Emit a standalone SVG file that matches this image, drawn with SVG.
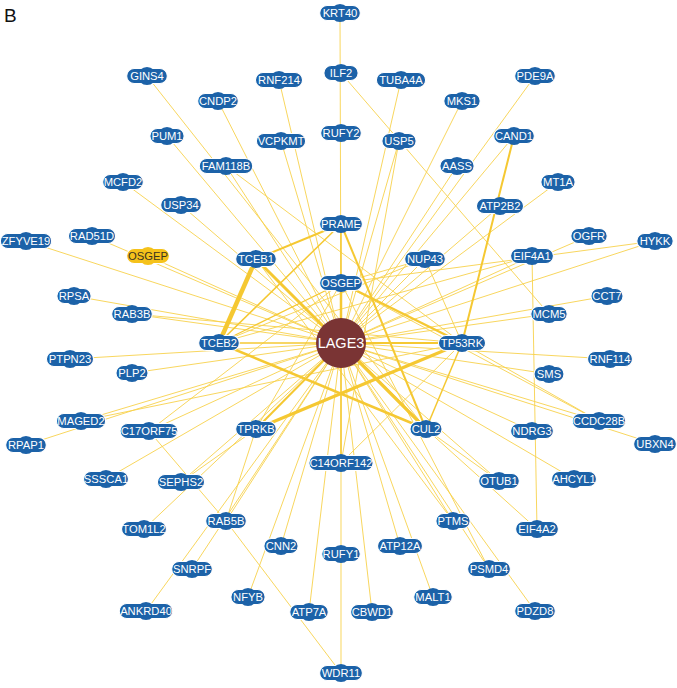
<svg xmlns="http://www.w3.org/2000/svg" width="677" height="688" viewBox="0 0 677 688">
<style>
.e{stroke:#f7d24c;stroke-width:1;fill:none;opacity:.9}
.t{stroke:#f5c832;fill:none}
.node rect,.node circle{fill:#1c62a8;stroke:#ffffff;stroke-width:1}
.node .c{stroke:none}
.node text{fill:#ffffff;font-family:"Liberation Sans",Arial,sans-serif;font-size:10.5px;text-anchor:middle}
.y rect,.y circle{fill:#f5c21b}
.y text{fill:#3a3320}
</style>
<rect width="677" height="688" fill="#ffffff"/>
<text x="4" y="22" font-family="Liberation Sans,Arial,sans-serif" font-size="19" fill="#111">B</text>
<g id="edges">
<line class="e" x1="340" y1="13" x2="341" y2="343"/>
<line class="e" x1="401" y1="80" x2="341" y2="343"/>
<line class="e" x1="279" y1="80" x2="341" y2="343"/>
<line class="e" x1="281" y1="141" x2="341" y2="343"/>
<line class="e" x1="218" y1="101" x2="341" y2="343"/>
<line class="e" x1="226" y1="166" x2="341" y2="343"/>
<line class="e" x1="167" y1="136" x2="341" y2="343"/>
<line class="e" x1="462" y1="101" x2="341" y2="343"/>
<line class="e" x1="535" y1="76" x2="341" y2="343"/>
<line class="e" x1="514" y1="136" x2="341" y2="343"/>
<line class="e" x1="457" y1="166" x2="341" y2="343"/>
<line class="e" x1="500" y1="206" x2="341" y2="343"/>
<line class="e" x1="558" y1="182" x2="341" y2="343"/>
<line class="e" x1="123" y1="182" x2="341" y2="343"/>
<line class="e" x1="181" y1="205" x2="341" y2="343"/>
<line class="e" x1="399" y1="141" x2="341" y2="343"/>
<line class="e" x1="26" y1="241" x2="341" y2="343"/>
<line class="e" x1="92" y1="236" x2="341" y2="343"/>
<line class="e" x1="148" y1="256" x2="341" y2="343"/>
<line class="e" x1="74" y1="296" x2="341" y2="343"/>
<line class="e" x1="132" y1="314" x2="341" y2="343"/>
<line class="e" x1="70" y1="359" x2="341" y2="343"/>
<line class="e" x1="132" y1="373" x2="341" y2="343"/>
<line class="e" x1="81" y1="421" x2="341" y2="343"/>
<line class="e" x1="26" y1="445" x2="341" y2="343"/>
<line class="e" x1="149" y1="431" x2="341" y2="343"/>
<line class="e" x1="106" y1="479" x2="341" y2="343"/>
<line class="e" x1="181" y1="482" x2="341" y2="343"/>
<line class="e" x1="144" y1="529" x2="341" y2="343"/>
<line class="e" x1="226" y1="521" x2="341" y2="343"/>
<line class="e" x1="192" y1="569" x2="341" y2="343"/>
<line class="e" x1="146" y1="611" x2="341" y2="343"/>
<line class="e" x1="248" y1="597" x2="341" y2="343"/>
<line class="e" x1="281" y1="546" x2="341" y2="343"/>
<line class="e" x1="309" y1="612" x2="341" y2="343"/>
<line class="e" x1="372" y1="612" x2="341" y2="343"/>
<line class="e" x1="400" y1="546" x2="341" y2="343"/>
<line class="e" x1="433" y1="597" x2="341" y2="343"/>
<line class="e" x1="453" y1="521" x2="341" y2="343"/>
<line class="e" x1="489" y1="569" x2="341" y2="343"/>
<line class="e" x1="535" y1="611" x2="341" y2="343"/>
<line class="e" x1="499" y1="481" x2="341" y2="343"/>
<line class="e" x1="574" y1="479" x2="341" y2="343"/>
<line class="e" x1="532" y1="431" x2="341" y2="343"/>
<line class="e" x1="655" y1="444" x2="341" y2="343"/>
<line class="e" x1="599" y1="421" x2="341" y2="343"/>
<line class="e" x1="549" y1="374" x2="341" y2="343"/>
<line class="e" x1="610" y1="359" x2="341" y2="343"/>
<line class="e" x1="549" y1="314" x2="341" y2="343"/>
<line class="e" x1="607" y1="296" x2="341" y2="343"/>
<line class="e" x1="532" y1="256" x2="341" y2="343"/>
<line class="e" x1="589" y1="236" x2="341" y2="343"/>
<line class="e" x1="655" y1="241" x2="341" y2="343"/>
<line class="e" x1="425" y1="259" x2="341" y2="343"/>
<line class="e" x1="341" y1="343" x2="341" y2="673"/>
<line class="e" x1="341" y1="73" x2="549" y2="314"/>
<line class="e" x1="147" y1="76" x2="426" y2="429"/>
<line class="e" x1="226" y1="166" x2="462" y2="343"/>
<line class="e" x1="399" y1="141" x2="341" y2="463"/>
<line class="e" x1="132" y1="314" x2="462" y2="343"/>
<line class="e" x1="81" y1="421" x2="462" y2="343"/>
<line class="e" x1="149" y1="431" x2="226" y2="521"/>
<line class="e" x1="181" y1="482" x2="256" y2="429"/>
<line class="e" x1="226" y1="521" x2="256" y2="429"/>
<line class="e" x1="226" y1="521" x2="341" y2="673"/>
<line class="e" x1="532" y1="256" x2="537" y2="529"/>
<line class="e" x1="499" y1="481" x2="426" y2="429"/>
<line class="e" x1="537" y1="529" x2="426" y2="429"/>
<line class="e" x1="599" y1="421" x2="462" y2="343"/>
<line class="e" x1="599" y1="421" x2="341" y2="283"/>
<line class="e" x1="655" y1="241" x2="341" y2="283"/>
<line class="e" x1="425" y1="259" x2="462" y2="343"/>
<line class="e" x1="425" y1="259" x2="341" y2="283"/>
<line class="e" x1="341" y1="463" x2="462" y2="343"/>
<line class="e" x1="256" y1="429" x2="341" y2="283"/>
<line class="e" x1="219" y1="343" x2="425" y2="259"/>
<line class="e" x1="489" y1="569" x2="341" y2="283"/>
<line class="e" x1="532" y1="256" x2="219" y2="343"/>
<line class="e" x1="256" y1="259" x2="453" y2="521"/>
<line class="e" x1="149" y1="431" x2="341" y2="283"/>
<line class="t" stroke-width="4.5" x1="256" y1="259" x2="219" y2="343"/>
<line class="t" stroke-width="3" x1="256" y1="259" x2="426" y2="429"/>
<line class="t" stroke-width="2" x1="256" y1="259" x2="341" y2="224"/>
<line class="t" stroke-width="2.5" x1="219" y1="343" x2="426" y2="429"/>
<line class="t" stroke-width="1.5" x1="219" y1="343" x2="341" y2="224"/>
<line class="t" stroke-width="1.2" x1="219" y1="343" x2="341" y2="283"/>
<line class="t" stroke-width="1.5" x1="219" y1="343" x2="341" y2="343"/>
<line class="t" stroke-width="3" x1="256" y1="429" x2="462" y2="343"/>
<line class="t" stroke-width="2" x1="256" y1="429" x2="341" y2="343"/>
<line class="t" stroke-width="2.5" x1="462" y1="343" x2="341" y2="283"/>
<line class="t" stroke-width="2" x1="462" y1="343" x2="341" y2="343"/>
<line class="t" stroke-width="1.5" x1="462" y1="343" x2="426" y2="429"/>
<line class="t" stroke-width="2" x1="462" y1="343" x2="514" y2="136"/>
<line class="t" stroke-width="3" x1="426" y1="429" x2="341" y2="343"/>
<line class="t" stroke-width="2" x1="426" y1="429" x2="341" y2="224"/>
<line class="t" stroke-width="2.5" x1="341" y1="283" x2="341" y2="343"/>
<line class="t" stroke-width="1.5" x1="341" y1="224" x2="341" y2="283"/>
<line class="t" stroke-width="1.5" x1="341" y1="463" x2="341" y2="343"/>
</g>
<g id="nodes">
<g id="n-LAGE3"><circle cx="341" cy="343" r="25" fill="#7a3434"/><text x="341" y="348" font-family="Liberation Sans,Arial,sans-serif" font-size="14.5" fill="#fff" text-anchor="middle">LAGE3</text></g>
<g id="n-KRT40" class="node" transform="translate(340,13) scale(1.07)"><rect x="-19" y="-7" width="38" height="14" rx="7"/><circle class="c" r="8.5"/><text y="3.8">KRT40</text></g>
<g id="n-ILF2" class="node" transform="translate(341,73) scale(1.07)"><rect x="-16" y="-7" width="32" height="14" rx="7"/><circle class="c" r="8.5"/><text y="3.8">ILF2</text></g>
<g id="n-GINS4" class="node" transform="translate(147,76) scale(1.07)"><rect x="-19" y="-7" width="38" height="14" rx="7"/><circle class="c" r="8.5"/><text y="3.8">GINS4</text></g>
<g id="n-RNF214" class="node" transform="translate(279,80) scale(1.07)"><rect x="-22" y="-7" width="44" height="14" rx="7"/><circle class="c" r="8.5"/><text y="3.8">RNF214</text></g>
<g id="n-TUBA4A" class="node" transform="translate(401,80) scale(1.07)"><rect x="-23" y="-7" width="46" height="14" rx="7"/><circle class="c" r="8.5"/><text y="3.8">TUBA4A</text></g>
<g id="n-PDE9A" class="node" transform="translate(535,76) scale(1.07)"><rect x="-19" y="-7" width="38" height="14" rx="7"/><circle class="c" r="8.5"/><text y="3.8">PDE9A</text></g>
<g id="n-CNDP2" class="node" transform="translate(218,101) scale(1.07)"><rect x="-19" y="-7" width="38" height="14" rx="7"/><circle class="c" r="8.5"/><text y="3.8">CNDP2</text></g>
<g id="n-MKS1" class="node" transform="translate(462,101) scale(1.07)"><rect x="-17" y="-7" width="34" height="14" rx="7"/><circle class="c" r="8.5"/><text y="3.8">MKS1</text></g>
<g id="n-PUM1" class="node" transform="translate(167,136) scale(1.07)"><rect x="-16" y="-7" width="32" height="14" rx="7"/><circle class="c" r="8.5"/><text y="3.8">PUM1</text></g>
<g id="n-RUFY2" class="node" transform="translate(341,133) scale(1.07)"><rect x="-19" y="-7" width="38" height="14" rx="7"/><circle class="c" r="8.5"/><text y="3.8">RUFY2</text></g>
<g id="n-VCPKMT" class="node" transform="translate(281,141) scale(1.07)"><rect x="-23" y="-7" width="46" height="14" rx="7"/><circle class="c" r="8.5"/><text y="3.8">VCPKMT</text></g>
<g id="n-USP5" class="node" transform="translate(399,141) scale(1.07)"><rect x="-16" y="-7" width="32" height="14" rx="7"/><circle class="c" r="8.5"/><text y="3.8">USP5</text></g>
<g id="n-CAND1" class="node" transform="translate(514,136) scale(1.07)"><rect x="-19" y="-7" width="38" height="14" rx="7"/><circle class="c" r="8.5"/><text y="3.8">CAND1</text></g>
<g id="n-FAM118B" class="node" transform="translate(226,166) scale(1.07)"><rect x="-25" y="-7" width="50" height="14" rx="7"/><circle class="c" r="8.5"/><text y="3.8">FAM118B</text></g>
<g id="n-AASS" class="node" transform="translate(457,166) scale(1.07)"><rect x="-16" y="-7" width="32" height="14" rx="7"/><circle class="c" r="8.5"/><text y="3.8">AASS</text></g>
<g id="n-MCFD2" class="node" transform="translate(123,182) scale(1.07)"><rect x="-19" y="-7" width="38" height="14" rx="7"/><circle class="c" r="8.5"/><text y="3.8">MCFD2</text></g>
<g id="n-MT1A" class="node" transform="translate(558,182) scale(1.07)"><rect x="-16" y="-7" width="32" height="14" rx="7"/><circle class="c" r="8.5"/><text y="3.8">MT1A</text></g>
<g id="n-USP34" class="node" transform="translate(181,205) scale(1.07)"><rect x="-19" y="-7" width="38" height="14" rx="7"/><circle class="c" r="8.5"/><text y="3.8">USP34</text></g>
<g id="n-ATP2B2" class="node" transform="translate(500,206) scale(1.07)"><rect x="-22" y="-7" width="44" height="14" rx="7"/><circle class="c" r="8.5"/><text y="3.8">ATP2B2</text></g>
<g id="n-PRAME" class="node" transform="translate(341,224) scale(1.07)"><rect x="-20" y="-7" width="40" height="14" rx="7"/><circle class="c" r="8.5"/><text y="3.8">PRAME</text></g>
<g id="n-ZFYVE19" class="node" transform="translate(26,241) scale(1.07)"><rect x="-24" y="-7" width="48" height="14" rx="7"/><circle class="c" r="8.5"/><text y="3.8">ZFYVE19</text></g>
<g id="n-RAD51D" class="node" transform="translate(92,236) scale(1.07)"><rect x="-22" y="-7" width="44" height="14" rx="7"/><circle class="c" r="8.5"/><text y="3.8">RAD51D</text></g>
<g id="n-OSGEP-2" class="node y" transform="translate(148,256) scale(1.07)"><rect x="-20" y="-7" width="40" height="14" rx="7"/><circle class="c" r="8.5"/><text y="3.8">OSGEP</text></g>
<g id="n-TCEB1" class="node" transform="translate(256,259) scale(1.07)"><rect x="-19" y="-7" width="38" height="14" rx="7"/><circle class="c" r="8.5"/><text y="3.8">TCEB1</text></g>
<g id="n-NUP43" class="node" transform="translate(425,259) scale(1.07)"><rect x="-19" y="-7" width="38" height="14" rx="7"/><circle class="c" r="8.5"/><text y="3.8">NUP43</text></g>
<g id="n-EIF4A1" class="node" transform="translate(532,256) scale(1.07)"><rect x="-20" y="-7" width="40" height="14" rx="7"/><circle class="c" r="8.5"/><text y="3.8">EIF4A1</text></g>
<g id="n-OGFR" class="node" transform="translate(589,236) scale(1.07)"><rect x="-17" y="-7" width="34" height="14" rx="7"/><circle class="c" r="8.5"/><text y="3.8">OGFR</text></g>
<g id="n-HYKK" class="node" transform="translate(655,241) scale(1.07)"><rect x="-17" y="-7" width="34" height="14" rx="7"/><circle class="c" r="8.5"/><text y="3.8">HYKK</text></g>
<g id="n-OSGEP" class="node" transform="translate(341,283) scale(1.07)"><rect x="-20" y="-7" width="40" height="14" rx="7"/><circle class="c" r="8.5"/><text y="3.8">OSGEP</text></g>
<g id="n-RPSA" class="node" transform="translate(74,296) scale(1.07)"><rect x="-16" y="-7" width="32" height="14" rx="7"/><circle class="c" r="8.5"/><text y="3.8">RPSA</text></g>
<g id="n-RAB3B" class="node" transform="translate(132,314) scale(1.07)"><rect x="-19" y="-7" width="38" height="14" rx="7"/><circle class="c" r="8.5"/><text y="3.8">RAB3B</text></g>
<g id="n-CCT7" class="node" transform="translate(607,296) scale(1.07)"><rect x="-15" y="-7" width="30" height="14" rx="7"/><circle class="c" r="8.5"/><text y="3.8">CCT7</text></g>
<g id="n-MCM5" class="node" transform="translate(549,314) scale(1.07)"><rect x="-17" y="-7" width="34" height="14" rx="7"/><circle class="c" r="8.5"/><text y="3.8">MCM5</text></g>
<g id="n-TCEB2" class="node" transform="translate(219,343) scale(1.07)"><rect x="-19" y="-7" width="38" height="14" rx="7"/><circle class="c" r="8.5"/><text y="3.8">TCEB2</text></g>
<g id="n-TP53RK" class="node" transform="translate(462,343) scale(1.07)"><rect x="-22" y="-7" width="44" height="14" rx="7"/><circle class="c" r="8.5"/><text y="3.8">TP53RK</text></g>
<g id="n-PTPN23" class="node" transform="translate(70,359) scale(1.07)"><rect x="-22" y="-7" width="44" height="14" rx="7"/><circle class="c" r="8.5"/><text y="3.8">PTPN23</text></g>
<g id="n-RNF114" class="node" transform="translate(610,359) scale(1.07)"><rect x="-21" y="-7" width="42" height="14" rx="7"/><circle class="c" r="8.5"/><text y="3.8">RNF114</text></g>
<g id="n-PLP2" class="node" transform="translate(132,373) scale(1.07)"><rect x="-15" y="-7" width="30" height="14" rx="7"/><circle class="c" r="8.5"/><text y="3.8">PLP2</text></g>
<g id="n-SMS" class="node" transform="translate(549,374) scale(1.07)"><rect x="-14" y="-7" width="28" height="14" rx="7"/><circle class="c" r="8.5"/><text y="3.8">SMS</text></g>
<g id="n-MAGED2" class="node" transform="translate(81,421) scale(1.07)"><rect x="-23" y="-7" width="46" height="14" rx="7"/><circle class="c" r="8.5"/><text y="3.8">MAGED2</text></g>
<g id="n-CCDC28B" class="node" transform="translate(599,421) scale(1.07)"><rect x="-25" y="-7" width="50" height="14" rx="7"/><circle class="c" r="8.5"/><text y="3.8">CCDC28B</text></g>
<g id="n-TPRKB" class="node" transform="translate(256,429) scale(1.07)"><rect x="-19" y="-7" width="38" height="14" rx="7"/><circle class="c" r="8.5"/><text y="3.8">TPRKB</text></g>
<g id="n-CUL2" class="node" transform="translate(426,429) scale(1.07)"><rect x="-15" y="-7" width="30" height="14" rx="7"/><circle class="c" r="8.5"/><text y="3.8">CUL2</text></g>
<g id="n-C17ORF75" class="node" transform="translate(149,431) scale(1.07)"><rect x="-27" y="-7" width="54" height="14" rx="7"/><circle class="c" r="8.5"/><text y="3.8">C17ORF75</text></g>
<g id="n-NDRG3" class="node" transform="translate(532,431) scale(1.07)"><rect x="-20" y="-7" width="40" height="14" rx="7"/><circle class="c" r="8.5"/><text y="3.8">NDRG3</text></g>
<g id="n-RPAP1" class="node" transform="translate(26,445) scale(1.07)"><rect x="-19" y="-7" width="38" height="14" rx="7"/><circle class="c" r="8.5"/><text y="3.8">RPAP1</text></g>
<g id="n-UBXN4" class="node" transform="translate(655,444) scale(1.07)"><rect x="-20" y="-7" width="40" height="14" rx="7"/><circle class="c" r="8.5"/><text y="3.8">UBXN4</text></g>
<g id="n-C14ORF142" class="node" transform="translate(341,463) scale(1.07)"><rect x="-30" y="-7" width="60" height="14" rx="7"/><circle class="c" r="8.5"/><text y="3.8">C14ORF142</text></g>
<g id="n-SSSCA1" class="node" transform="translate(106,479) scale(1.07)"><rect x="-21" y="-7" width="42" height="14" rx="7"/><circle class="c" r="8.5"/><text y="3.8">SSSCA1</text></g>
<g id="n-SEPHS2" class="node" transform="translate(181,482) scale(1.07)"><rect x="-22" y="-7" width="44" height="14" rx="7"/><circle class="c" r="8.5"/><text y="3.8">SEPHS2</text></g>
<g id="n-OTUB1" class="node" transform="translate(499,481) scale(1.07)"><rect x="-19" y="-7" width="38" height="14" rx="7"/><circle class="c" r="8.5"/><text y="3.8">OTUB1</text></g>
<g id="n-AHCYL1" class="node" transform="translate(574,479) scale(1.07)"><rect x="-21" y="-7" width="42" height="14" rx="7"/><circle class="c" r="8.5"/><text y="3.8">AHCYL1</text></g>
<g id="n-TOM1L2" class="node" transform="translate(144,529) scale(1.07)"><rect x="-21" y="-7" width="42" height="14" rx="7"/><circle class="c" r="8.5"/><text y="3.8">TOM1L2</text></g>
<g id="n-RAB5B" class="node" transform="translate(226,521) scale(1.07)"><rect x="-19" y="-7" width="38" height="14" rx="7"/><circle class="c" r="8.5"/><text y="3.8">RAB5B</text></g>
<g id="n-PTMS" class="node" transform="translate(453,521) scale(1.07)"><rect x="-16" y="-7" width="32" height="14" rx="7"/><circle class="c" r="8.5"/><text y="3.8">PTMS</text></g>
<g id="n-EIF4A2" class="node" transform="translate(537,529) scale(1.07)"><rect x="-20" y="-7" width="40" height="14" rx="7"/><circle class="c" r="8.5"/><text y="3.8">EIF4A2</text></g>
<g id="n-CNN2" class="node" transform="translate(281,546) scale(1.07)"><rect x="-16" y="-7" width="32" height="14" rx="7"/><circle class="c" r="8.5"/><text y="3.8">CNN2</text></g>
<g id="n-RUFY1" class="node" transform="translate(341,554) scale(1.07)"><rect x="-18" y="-7" width="36" height="14" rx="7"/><circle class="c" r="8.5"/><text y="3.8">RUFY1</text></g>
<g id="n-ATP12A" class="node" transform="translate(400,546) scale(1.07)"><rect x="-21" y="-7" width="42" height="14" rx="7"/><circle class="c" r="8.5"/><text y="3.8">ATP12A</text></g>
<g id="n-SNRPF" class="node" transform="translate(192,569) scale(1.07)"><rect x="-19" y="-7" width="38" height="14" rx="7"/><circle class="c" r="8.5"/><text y="3.8">SNRPF</text></g>
<g id="n-PSMD4" class="node" transform="translate(489,569) scale(1.07)"><rect x="-20" y="-7" width="40" height="14" rx="7"/><circle class="c" r="8.5"/><text y="3.8">PSMD4</text></g>
<g id="n-ANKRD40" class="node" transform="translate(146,611) scale(1.07)"><rect x="-25" y="-7" width="50" height="14" rx="7"/><circle class="c" r="8.5"/><text y="3.8">ANKRD40</text></g>
<g id="n-NFYB" class="node" transform="translate(248,597) scale(1.07)"><rect x="-16" y="-7" width="32" height="14" rx="7"/><circle class="c" r="8.5"/><text y="3.8">NFYB</text></g>
<g id="n-ATP7A" class="node" transform="translate(309,612) scale(1.07)"><rect x="-18" y="-7" width="36" height="14" rx="7"/><circle class="c" r="8.5"/><text y="3.8">ATP7A</text></g>
<g id="n-CBWD1" class="node" transform="translate(372,612) scale(1.07)"><rect x="-20" y="-7" width="40" height="14" rx="7"/><circle class="c" r="8.5"/><text y="3.8">CBWD1</text></g>
<g id="n-MALT1" class="node" transform="translate(433,597) scale(1.07)"><rect x="-18" y="-7" width="36" height="14" rx="7"/><circle class="c" r="8.5"/><text y="3.8">MALT1</text></g>
<g id="n-PDZD8" class="node" transform="translate(535,611) scale(1.07)"><rect x="-19" y="-7" width="38" height="14" rx="7"/><circle class="c" r="8.5"/><text y="3.8">PDZD8</text></g>
<g id="n-WDR11" class="node" transform="translate(341,673) scale(1.07)"><rect x="-20" y="-7" width="40" height="14" rx="7"/><circle class="c" r="8.5"/><text y="3.8">WDR11</text></g>
</g>
</svg>
